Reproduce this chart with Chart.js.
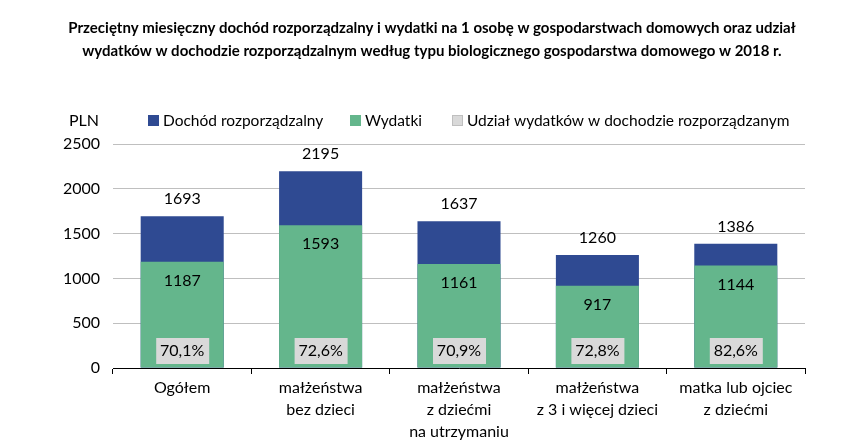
<!DOCTYPE html>
<html>
<head>
<meta charset="utf-8">
<script src="https://cdn.jsdelivr.net/npm/chart.js@4"></script>
<style>
  body { margin: 0; background: #fff; }
  #wrap { width: 864px; height: 440px; }
</style>
</head>
<body>
<div id="wrap"><canvas id="myChart" width="864" height="440"></canvas></div>
<script>
// dane z wykresu (2018 r.)
const labels = [
    'Ogółem',
    ['małżeństwa', 'bez dzieci'],
    ['małżeństwa', 'z dziećmi', 'na utrzymaniu'],
    ['małżeństwa', 'z 3 i więcej dzieci'],
    ['matka lub ojciec', 'z dziećmi']
]
const dochod = [1693, 2195, 1637, 1260, 1386]
const wydatki = [1187, 1593, 1161, 917, 1144]
const udzial = ['70,1%', '72,6%', '70,9%', '72,8%', '82,6%']
const yTicks = [0, 500, 1000, 1500, 2000, 2500]
const tytul = [
    'Przeciętny miesięczny dochód rozporządzalny i wydatki na 1 osobę w gospodarstwach domowych oraz udział',
    'wydatków w dochodzie rozporządzalnym według typu biologicznego gospodarstwa domowego w 2018 r.'
]

const FONT = 'Lato, "Open Sans", sans-serif'
const BLUE = '#2F4A92'
const GREEN = '#64B68C'
const GREY = '#D9D9D9'

Chart.defaults.font.family = FONT
Chart.defaults.color = '#000'

// tytul, etykiety wartosci, pola z udzialem, legenda i "PLN"
const extras = {
    id: 'extras',
    afterDatasetsDraw(chart) {
        const ctx = chart.ctx
        ctx.save()
        ctx.fillStyle = '#000'
        ctx.textAlign = 'center'
        ctx.textBaseline = 'middle'

        ctx.font = 'bold 15px ' + FONT
        ctx.fillText(tytul[0], chart.width / 2, 28)
        ctx.fillText(tytul[1], chart.width / 2, 51)

        ctx.font = '16px ' + FONT
        const blueMeta = chart.getDatasetMeta(1)
        const greenMeta = chart.getDatasetMeta(0)
        blueMeta.data.forEach((bar, i) => {
            ctx.fillText(dochod[i], bar.x, bar.y - 17)
        })
        greenMeta.data.forEach((bar, i) => {
            ctx.fillText(wydatki[i], bar.x, bar.y + 19)
            const yb = chart.scales.y.bottom - 17
            ctx.fillStyle = GREY
            ctx.fillRect(bar.x - 26, yb - 13, 53, 26)
            ctx.fillStyle = '#000'
            ctx.fillText(udzial[i], bar.x, yb)
        })

        // legenda
        const ly = 120
        const items = [
            [BLUE, 'Dochód rozporządzalny', 148],
            [GREEN, 'Wydatki', 350],
            [GREY, 'Udział wydatków w dochodzie rozporządzanym', 452]
        ]
        ctx.textAlign = 'left'
        ctx.font = '15.5px ' + FONT
        items.forEach(([col, txt, x]) => {
            ctx.fillStyle = col
            ctx.fillRect(x, ly - 5, 11, 11)
            if (col === GREY) {
                ctx.strokeStyle = '#BFBFBF'
                ctx.lineWidth = 1
                ctx.strokeRect(x + 0.5, ly - 4.5, 10, 10)
            }
            ctx.fillStyle = '#000'
            ctx.fillText(txt, x + 15, ly + 1)
        })
        ctx.font = '16px ' + FONT
        ctx.fillText('PLN', 69, ly + 1)
        ctx.restore()
    }
}

const data = {
    labels: labels,
    datasets: [
        {
            label: 'Wydatki',
            backgroundColor: GREEN,
            data: wydatki,
            order: 0
        },
        {
            label: 'Dochód rozporządzalny',
            backgroundColor: BLUE,
            data: dochod,
            order: 1
        }
    ]
}

const config = {
    type: 'bar',
    data: data,
    options: {
        responsive: false,
        animation: false,
        layout: { padding: { left: 0, right: 59, top: 144, bottom: 0 } },
        datasets: { bar: { barPercentage: 0.6, categoryPercentage: 1 } },
        plugins: {
            legend: { display: false },
            tooltip: { enabled: false },
            title: { display: false }
        },
        scales: {
            x: {
                stacked: true,
                grid: { drawOnChartArea: false, tickLength: 6, color: '#000', offset: true },
                border: { display: true, color: '#000' },
                ticks: { font: { size: 16, lineHeight: 1.375 }, color: '#000', padding: 3, maxRotation: 0, autoSkip: false },
                afterFit(scale) { scale.height = 72 }
            },
            y: {
                stacked: false,
                min: 0,
                max: 2500,
                afterBuildTicks(scale) { scale.ticks = yTicks.map(v => ({ value: v })) },
                grid: { color: '#BFBFBF', drawTicks: false },
                border: { display: false },
                ticks: { font: { size: 16 }, color: '#000', padding: 13, callback: v => String(v) },
                afterFit(scale) { scale.width = 113 }
            }
        }
    },
    plugins: [extras]
}

const myChart = new Chart(document.getElementById('myChart'), config)
</script>
</body>
</html>
